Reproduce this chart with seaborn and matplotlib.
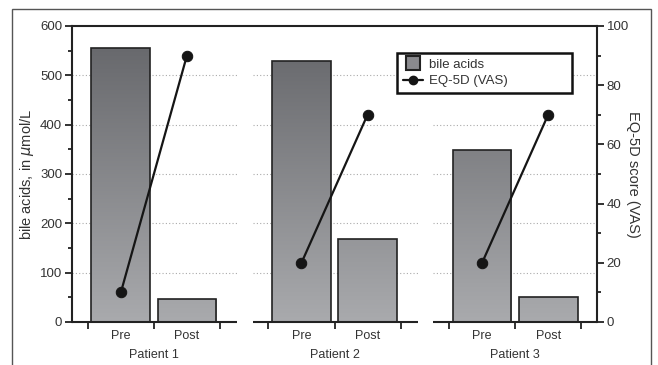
import numpy as np
import pandas as pd
import matplotlib.pyplot as plt
import seaborn as sns
from matplotlib.colors import LinearSegmentedColormap
from matplotlib.lines import Line2D
from matplotlib.patches import Rectangle

# data
patients = ["Patient 1", "Patient 2", "Patient 3"]
timepoints = ["Pre", "Post"]
bile_acids = [555, 47, 530, 168, 349, 51]   # umol/L
eq5d_vas = [10, 90, 20, 70, 20, 70]          # EQ-5D VAS score

# layout
group_step = 2.735
ink = "#222222"
txt = "#333333"

rows = []
k = 0
for g, p in enumerate(patients):
    for i, t in enumerate(timepoints):
        rows.append({"patient": p, "time": t, "pos": g * group_step + i,
                     "bile": bile_acids[k], "eq": eq5d_vas[k]})
        k += 1
df = pd.DataFrame(rows)

sns.set_style("white")
plt.rcParams["font.family"] = ["Liberation Sans", "DejaVu Sans"]
plt.rcParams["font.size"] = 9

fig = plt.figure(figsize=(6.58, 3.65), dpi=100)
ax = fig.add_axes([72 / 658, 43 / 365, 525 / 658, 296 / 365])

xmin, xmax = -0.74, df["pos"].max() + 0.74

sns.barplot(data=df, x="pos", y="bile", native_scale=True, width=0.89,
            color="#888888", edgecolor=ink, linewidth=1.2, ax=ax, zorder=3)

# vertical gradient fill inside the bars
cmap = LinearSegmentedColormap.from_list("g", ["#a9aaad", "#636468"])
grad = np.linspace(0, 1, 256).reshape(-1, 1)
for bar in list(ax.patches):
    bar.set_facecolor("none")
    im = ax.imshow(grad, extent=(xmin, xmax, 0, 600), origin="lower",
                   cmap=cmap, aspect="auto", zorder=2.5)
    im.set_clip_path(bar)

ax.set_xlim(xmin, xmax)
ax.set_ylim(0, 600)

# segmented baseline + dotted grid per patient group
for g in range(len(patients)):
    left = g * group_step - 0.74 if g > 0 else xmin
    right = g * group_step + 1.76 if g < len(patients) - 1 else xmax
    ax.plot([left, right], [0, 0], color=ink, lw=1.5, clip_on=False,
            solid_capstyle="butt", zorder=4)
    for yv in range(100, 600, 100):
        ax.plot([left, right], [yv, yv], color="#aaaaaa", lw=0.8,
                ls=(0, (1, 2)), zorder=1)

centers = df["pos"].tolist()
bounds = []
for g in range(len(patients)):
    bounds += [g * group_step - 0.5, g * group_step + 0.5, g * group_step + 1.5]
ax.set_xticks(centers)
ax.set_xticklabels(df["time"], color=txt)
ax.set_xticks(bounds, minor=True)
ax.tick_params(axis="x", which="major", length=0, pad=6)
ax.tick_params(axis="x", which="minor", length=5, width=1.3, color=ink,
               direction="out", bottom=True)
ax.set_xlabel("")
for g, p in enumerate(patients):
    ax.text(g * group_step + 0.5, -0.09, p, transform=ax.get_xaxis_transform(),
            ha="center", va="top", color=txt)

ax.set_yticks(range(0, 601, 100))
ax.set_yticks(range(50, 600, 100), minor=True)
ax.tick_params(axis="y", which="major", length=5, width=1.3, color=ink,
               labelcolor=txt, left=True, pad=2, labelsize=9.5)
ax.tick_params(axis="y", which="minor", length=3, width=1.3, color=ink, left=True)
ax.set_ylabel(r"bile acids, in $\mathit{\mu}$mol/L", color=txt, labelpad=3,
              fontsize=10.5)

for s in ["left", "top"]:
    ax.spines[s].set_linewidth(1.5)
    ax.spines[s].set_color(ink)
ax.spines["right"].set_visible(False)
ax.spines["bottom"].set_visible(False)

# secondary axis: EQ-5D
ax2 = ax.twinx()
sns.lineplot(data=df, x="pos", y="eq", units="patient", estimator=None,
             color="#151515", lw=1.6, marker="o", markersize=7.5,
             markeredgecolor="#151515", ax=ax2, legend=False)
ax2.set_ylim(0, 100)
ax2.set_xlim(xmin, xmax)
ax2.set_yticks(range(0, 101, 20))
ax2.set_yticks(range(10, 100, 20), minor=True)
ax2.tick_params(axis="y", which="major", length=5, width=1.3, color=ink,
                labelcolor=txt, right=True, pad=2, labelsize=9.5)
ax2.tick_params(axis="y", which="minor", length=3, width=1.3, color=ink, right=True)
ax2.set_ylabel("EQ-5D score (VAS)", color=txt, rotation=270, labelpad=8,
               fontsize=10.5)
ax2.set_xlabel("")
for s in ["left", "top", "bottom"]:
    ax2.spines[s].set_visible(False)
ax2.spines["right"].set_linewidth(1.5)
ax2.spines["right"].set_color(ink)

handles = [
    Line2D([], [], ls="none", marker="s", markersize=10, markerfacecolor="#8a8a8e",
           markeredgecolor=ink, markeredgewidth=1.5),
    Line2D([], [], color="#151515", lw=1.6, marker="o", markersize=6),
]
leg = ax2.legend(handles, ["bile acids", "EQ-5D (VAS)"], loc="upper left",
                 bbox_to_anchor=(0.619, 0.909, 0.333, 0.0), mode="expand",
                 frameon=True, fancybox=False, framealpha=1,
                 edgecolor="#111111", fontsize=9.5,
                 handlelength=1.5, handletextpad=0.5, borderpad=0.45,
                 labelspacing=0.3, borderaxespad=0)
leg.get_frame().set_linewidth(1.8)
for t in leg.get_texts():
    t.set_color(txt)

# outer frame of the figure panel
fig.patches.append(Rectangle((12 / 658, -0.05), 639 / 658, 1.05 - 9 / 365,
                             transform=fig.transFigure, fill=False,
                             edgecolor="#555555", lw=1.0))

fig.savefig("out.png", dpi=100)
